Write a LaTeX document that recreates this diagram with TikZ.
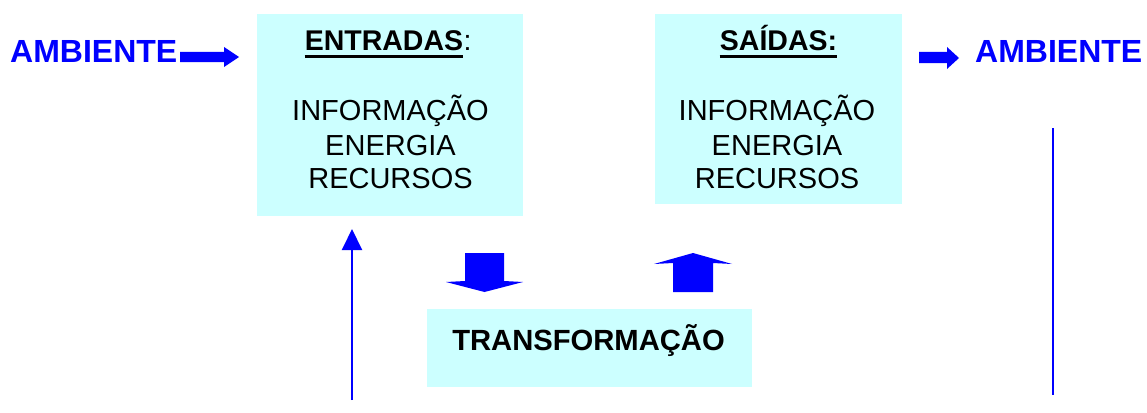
\documentclass[tikz,border=0pt]{standalone}
\usepackage{fontspec}
\setmainfont{Liberation Sans}
\usetikzlibrary{arrows.meta}
\definecolor{boxcyan}{HTML}{CCFFFF}
\definecolor{pureblue}{HTML}{0000FF}
\tikzset{
  panel/.style={fill=boxcyan, draw=none, inner sep=0pt},
  body/.style={anchor=base, inner sep=0pt, font=\fontsize{29}{34}\selectfont},
  heading/.style={anchor=base, inner sep=0pt, font=\fontsize{28.5}{32}\selectfont\bfseries},
  amb/.style={anchor=base west, inner sep=0pt, text=pureblue, font=\fontsize{32}{38}\selectfont\bfseries},
  blockarrow/.style={fill=pureblue},
  thinline/.style={draw=pureblue, line width=2pt},
  uline/.style={line width=3pt}
}
\begin{document}
\begin{tikzpicture}[x=1pt,y=-1pt]
\useasboundingbox (0,0) rectangle (1147,412);
% boxes
\node[panel, minimum width=266pt, minimum height=202pt] (entbox) at (390,115) {};
\node[panel, minimum width=247pt, minimum height=190pt] (saibox) at (778.5,109) {};
\node[panel, minimum width=325pt, minimum height=78pt] (trbox) at (589.5,347.5) {};
% ENTRADAS
\node[heading] (enth) at (384,51) {ENTRADAS};
\node[anchor=base west, inner sep=0pt, font=\fontsize{28.5}{32}\selectfont] (entc) at (enth.base east) {:};
\draw[uline] ([yshift=-6pt]enth.base west) -- ([yshift=-6pt]enth.base east);
\node[body] (e1) at (390.5,120) {INFORMAÇÃO};
\node[body] (e2) at (390.5,155) {ENERGIA};
\node[body] (e3) at (390.5,188.5) {RECURSOS};
% SAIDAS
\node[heading] (saih) at (778.5,51) {SAÍDAS:};
\draw[uline] ([yshift=-6pt]saih.base west) -- ([yshift=-6pt]saih.base east);
\node[body] (s1) at (777,120) {INFORMAÇÃO};
\node[body] (s2) at (777,155) {ENERGIA};
\node[body] (s3) at (777,188.5) {RECURSOS};
% TRANSFORMACAO
\node[anchor=base, inner sep=0pt, font=\fontsize{29.2}{34}\selectfont\bfseries] (trt) at (588.5,350) {TRANSFORMAÇÃO};
% AMBIENTE labels
\node[amb] (ambl) at (10,63) {AMBIENTE};
\node[amb] (ambr) at (975,63) {AMBIENTE};
% block arrows
\fill[blockarrow] (180,52) -- (224,52) -- (224,47) -- (239,57) -- (224,67) -- (224,62) -- (180,62) -- cycle;
\fill[blockarrow] (919,52) -- (947,52) -- (947,47) -- (959,58) -- (947,69) -- (947,63) -- (919,63) -- cycle;
\fill[blockarrow] (465,253) -- (504,253) -- (504,281) -- (523,282) -- (484.5,292) -- (446,282) -- (465,281) -- cycle;
\fill[blockarrow] (673,292) -- (713,292) -- (713,263) -- (732,264) -- (693,253) -- (654,264) -- (673,263) -- cycle;
% thin connectors
\coordinate (fbot) at (352,400);
\coordinate (ftop) at (352,229);
\draw[thinline, -{Triangle[width=20pt,length=21pt]}] (fbot) -- (ftop);
\coordinate (rtop) at (1053,128);
\coordinate (rbot) at (1053,395);
\draw[thinline] (rtop) -- (rbot);
\end{tikzpicture}
\end{document}
